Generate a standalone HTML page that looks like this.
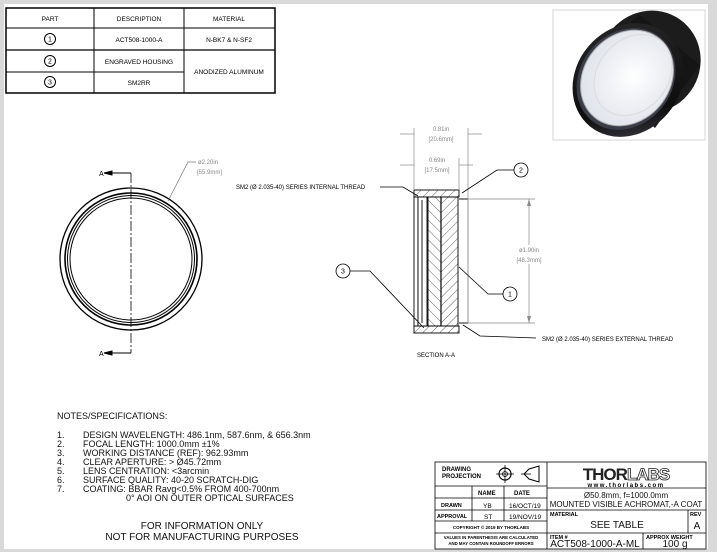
<!DOCTYPE html>
<html><head><style>
body{margin:0;width:717px;height:552px;overflow:hidden;background:#d9d9d9;font-family:"Liberation Sans",sans-serif;}
#pg{position:absolute;left:4px;top:4px;width:704px;height:545px;background:#fff;}
svg{position:absolute;left:0;top:0}
</style></head><body>
<div id="pg"></div>
<svg width="717" height="552" viewBox="0 0 717 552" font-family="Liberation Sans, sans-serif">
<defs>
<pattern id="h1" width="6" height="6" patternUnits="userSpaceOnUse" patternTransform="rotate(45)"><line x1="0" y1="0" x2="0" y2="6" stroke="#222" stroke-width="0.7"/></pattern>
<pattern id="h2" width="7" height="7" patternUnits="userSpaceOnUse" patternTransform="rotate(-45)"><line x1="0" y1="0" x2="0" y2="7" stroke="#222" stroke-width="0.7"/></pattern>
<radialGradient id="lg" cx="0.55" cy="0.45" r="0.6"><stop offset="0" stop-color="#fff"/><stop offset="1" stop-color="#dde2ea"/></radialGradient>
<linearGradient id="bk" x1="0" y1="0" x2="1" y2="1"><stop offset="0" stop-color="#2a2a2a"/><stop offset="0.7" stop-color="#0e0e0e"/><stop offset="1" stop-color="#4a4a55"/></linearGradient>
</defs>
<!-- parts table -->
<g stroke="#000" fill="none">
<rect x="6" y="8" width="269" height="85" stroke-width="1.5"/>
<line x1="6" y1="28" x2="275" y2="28"/><line x1="6" y1="50" x2="275" y2="50" stroke-width="1.3"/><line x1="6" y1="72" x2="184" y2="72"/>
<line x1="94" y1="8" x2="94" y2="93"/><line x1="184" y1="8" x2="184" y2="93"/>
<circle cx="50" cy="39" r="5.5"/><circle cx="50" cy="61" r="5.5"/><circle cx="50" cy="82" r="5.5"/>
</g>
<g font-size="6.5" text-anchor="middle" fill="#000">
<text x="50" y="21">PART</text><text x="139" y="21">DESCRIPTION</text><text x="229" y="21">MATERIAL</text>
<text x="50" y="41.5" font-size="7">1</text><text x="50" y="63.5" font-size="7">2</text><text x="50" y="84.5" font-size="7">3</text>
<text x="139" y="42">ACT508-1000-A</text><text x="229" y="42">N-BK7 &amp; N-SF2</text>
<text x="139" y="64">ENGRAVED HOUSING</text><text x="229" y="74">ANODIZED ALUMINUM</text><text x="139" y="85">SM2RR</text>
</g>
<!-- photo -->
<rect x="553" y="10" width="152" height="130" fill="#fff" stroke="#ccc" stroke-width="0.8"/>
<g>
<ellipse cx="650" cy="62" rx="50" ry="52" transform="rotate(35 650 62)" fill="#1c1c1c"/>
<polygon points="585,60 640,15 700,65 655,128" fill="#151515"/>
<ellipse cx="628" cy="80" rx="52" ry="60" transform="rotate(40 628 80)" fill="url(#bk)"/>
<ellipse cx="626" cy="79" rx="46" ry="54" transform="rotate(40 626 79)" fill="#3a3d48"/>
<ellipse cx="627" cy="78" rx="43" ry="51" transform="rotate(40 627 78)" fill="url(#lg)" stroke="#aaa" stroke-width="1"/>
<ellipse cx="633" cy="75" rx="35" ry="44" transform="rotate(40 633 75)" fill="none" stroke="#ddd" stroke-width="1.2"/>
</g>
<!-- left circle view -->
<g stroke="#000" fill="none">
<circle cx="131" cy="259" r="71" stroke-width="1.3"/>
<circle cx="131" cy="259" r="66" stroke-width="1.6"/>
<circle cx="131" cy="259" r="63.5" stroke-width="1"/>
<circle cx="131" cy="259" r="61" stroke-width="1"/>
<line x1="131" y1="173" x2="131" y2="353" stroke-dasharray="10,2,2,2" stroke-width="0.8"/>
<polyline points="131,173 108,173"/><polyline points="131,353 108,353"/>
<polygon points="104,173 112,171 112,175" fill="#000"/><polygon points="104,353 112,351 112,355" fill="#000"/>
<polyline points="196,162 188,162 168,201" stroke="#777" stroke-width="0.7"/>
</g>
<g font-size="7" fill="#000"><text x="99" y="176">A</text><text x="99" y="356">A</text></g>
<g font-size="6" fill="#888"><text x="198" y="164">ø2.20in</text><text x="197" y="174">[55.9mm]</text></g>
<!-- section view -->
<g stroke="#000" stroke-width="0.9">
<rect x="414" y="190" width="45" height="7" fill="url(#h1)"/>
<rect x="414" y="326" width="45" height="7" fill="url(#h1)"/>
<rect x="414" y="197" width="4" height="129" fill="#fff"/>
<rect x="418" y="197" width="9" height="129" fill="#fff"/>
<line x1="422" y1="200" x2="422" y2="323"/>
<polygon points="428,197 441,197 441,326 428,326" fill="url(#h2)"/>
<polygon points="441,197 458,197 458,326 441,326" fill="url(#h1)"/>
<line x1="441" y1="197" x2="441" y2="326" stroke-width="1.2"/>
<line x1="459" y1="199" x2="468" y2="199"/><line x1="459" y1="323" x2="468" y2="323"/><line x1="468" y1="199" x2="468" y2="323" stroke="#888"/>
</g>
<g stroke="#888" stroke-width="0.7" fill="none">
<line x1="414" y1="128" x2="414" y2="190"/><line x1="468" y1="128" x2="468" y2="199"/><line x1="459" y1="158" x2="459" y2="190"/>
<line x1="400" y1="134" x2="414" y2="134"/><line x1="468" y1="134" x2="482" y2="134"/>
<line x1="400" y1="165" x2="414" y2="165"/><line x1="459" y1="165" x2="473" y2="165"/>
<line x1="468" y1="199" x2="535" y2="199"/><line x1="468" y1="323" x2="535" y2="323"/>
<line x1="529" y1="199" x2="529" y2="245"/><line x1="529" y1="264" x2="529" y2="323"/>
</g>
<g fill="#888"><polygon points="529,199 527,206 531,206"/><polygon points="529,323 527,316 531,316"/></g>
<g font-size="6" fill="#888" text-anchor="middle">
<text x="441" y="131">0.81in</text><text x="441" y="141">[20.6mm]</text>
<text x="437" y="162">0.69in</text><text x="437" y="172">[17.5mm]</text>
<text x="529" y="252">ø1.90in</text><text x="529" y="262">[48.3mm]</text>
</g>
<g stroke="#000" stroke-width="0.8" fill="none">
<circle cx="521" cy="170" r="7"/><polyline points="514,170 497,170 462,193"/>
<circle cx="510" cy="294" r="7"/><polyline points="503,294 488,294 459,267"/>
<circle cx="343" cy="271" r="7"/><polyline points="350,271 370,271 424,328"/>
<polyline points="380,187 403,187 418,196"/>
<polyline points="536,338 480,336 463,325"/>
</g>
<g font-size="7" text-anchor="middle"><text x="521" y="172.5">2</text><text x="510" y="296.5">1</text><text x="343" y="273.5">3</text></g>
<g font-size="6" fill="#000">
<text x="236" y="189">SM2 (Ø 2.035-40) SERIES INTERNAL THREAD</text>
<text x="542" y="341">SM2 (Ø 2.035-40) SERIES EXTERNAL THREAD</text>
<text x="417" y="357">SECTION A-A</text>
</g>
<!-- notes -->
<g font-size="9" fill="#111">
<text x="57" y="419">NOTES/SPECIFICATIONS:</text>
<text x="57" y="438">1.</text><text x="83" y="438">DESIGN WAVELENGTH: 486.1nm, 587.6nm, &amp; 656.3nm</text>
<text x="57" y="447">2.</text><text x="83" y="447">FOCAL LENGTH: 1000.0mm ±1%</text>
<text x="57" y="456">3.</text><text x="83" y="456">WORKING DISTANCE (REF): 962.93mm</text>
<text x="57" y="465">4.</text><text x="83" y="465">CLEAR APERTURE: &gt; Ø45.72mm</text>
<text x="57" y="474">5.</text><text x="83" y="474">LENS CENTRATION: &lt;3arcmin</text>
<text x="57" y="483">6.</text><text x="83" y="483">SURFACE QUALITY: 40-20 SCRATCH-DIG</text>
<text x="57" y="492">7.</text><text x="83" y="492">COATING: BBAR Ravg&lt;0.5% FROM 400-700nm</text>
<text x="126" y="501">0° AOI ON OUTER OPTICAL SURFACES</text>
</g>
<g font-size="10" fill="#111" text-anchor="middle"><text x="202" y="529">FOR INFORMATION ONLY</text><text x="202" y="540">NOT FOR MANUFACTURING PURPOSES</text></g>
<!-- title block -->
<g stroke="#000" fill="none" stroke-width="0.8">
<rect x="435" y="462" width="271" height="87"/>
<line x1="547" y1="462" x2="547" y2="549"/>
<line x1="435" y1="486" x2="547" y2="486"/><line x1="435" y1="498" x2="547" y2="498"/><line x1="435" y1="510" x2="547" y2="510"/><line x1="435" y1="521" x2="547" y2="521"/><line x1="435" y1="533" x2="547" y2="533"/>
<line x1="472" y1="486" x2="472" y2="521"/><line x1="504" y1="486" x2="504" y2="521"/>
<line x1="547" y1="488" x2="706" y2="488"/><line x1="547" y1="510" x2="706" y2="510"/><line x1="547" y1="533" x2="706" y2="533"/>
<line x1="688" y1="510" x2="688" y2="533"/><line x1="643" y1="533" x2="643" y2="549"/>
<circle cx="505" cy="474" r="6" stroke-width="1.2"/><circle cx="505" cy="474" r="2.5"/>
<line x1="496" y1="474" x2="514" y2="474"/><line x1="505" y1="465" x2="505" y2="483"/>
<polygon points="524,474 529,469 539,466 539,482 529,479" stroke-width="1"/><line x1="521" y1="474" x2="531" y2="474"/>
</g>
<g fill="#000" font-size="6" font-weight="bold">
<text x="442" y="471">DRAWING</text><text x="442" y="478">PROJECTION</text>
<text x="478" y="495">NAME</text><text x="514" y="495">DATE</text>
<text x="441" y="507" font-size="5.5">DRAWN</text><text x="437" y="518" font-size="5.5">APPROVAL</text>
<text x="491" y="529" font-size="4.5" text-anchor="middle">COPYRIGHT © 2019 BY THORLABS</text>
<text x="491" y="539" font-size="4.3" text-anchor="middle">VALUES IN PARENTHESIS ARE CALCULATED</text>
<text x="491" y="545" font-size="4.3" text-anchor="middle">AND MAY CONTAIN ROUNDOFF ERRORS</text>
<text x="550" y="516" font-size="5.5">MATERIAL</text><text x="690" y="516" font-size="5.5">REV</text>
<text x="550" y="539" font-size="5.5">ITEM #</text><text x="646" y="539" font-size="5.5">APPROX WEIGHT</text>
</g>
<g fill="#000" font-size="6.5">
<text x="483" y="508">YB</text><text x="509" y="508">16/OCT/19</text>
<text x="484" y="519">ST</text><text x="509" y="519">19/NOV/19</text>
</g>
<text x="626" y="480" font-size="17" font-weight="bold" text-anchor="middle" fill="#222" letter-spacing="-1">THOR<tspan fill="#fff" stroke="#222" stroke-width="0.8">LABS</tspan></text>
<text x="626" y="487" font-size="6" font-weight="bold" text-anchor="middle" letter-spacing="1.5">www.thorlabs.com</text>
<g font-size="8" text-anchor="middle" fill="#111">
<text x="626" y="498">Ø50.8mm, f=1000.0mm</text>
<text x="626" y="507">MOUNTED VISIBLE ACHROMAT,-A COAT</text>
<text x="617" y="528" font-size="10">SEE TABLE</text><text x="697" y="529" font-size="10">A</text>
<text x="595" y="547" font-size="10">ACT508-1000-A-ML</text><text x="675" y="547" font-size="10">100 g</text>
</g>
</svg>
</body></html>
